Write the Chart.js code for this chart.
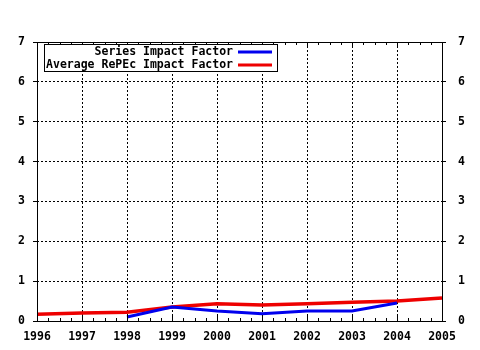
<!DOCTYPE html>
<html>
<head>
<meta charset="utf-8">
<script src="https://cdn.jsdelivr.net/npm/chart.js@4"></script>
<style>
  html, body { margin: 0; padding: 0; background: #fff; }
  #wrap { width: 480px; height: 350px; }
</style>
</head>
<body>
<div id="wrap"><canvas id="impactChart" width="480" height="350"></canvas></div>
<script>
// values
const years = [1996, 1997, 1998, 1999, 2000, 2001, 2002, 2003, 2004, 2005];
const seriesImpact = [null, null, 0.10, 0.35, 0.25, 0.18, 0.25, 0.25, 0.45, null];
const averageImpact = [0.17, 0.20, 0.22, 0.35, 0.43, 0.40, 0.43, 0.47, 0.50, 0.58];
const yTicks = [0, 1, 2, 3, 4, 5, 6, 7];
const legendLabels = ['Series Impact Factor', 'Average RePEc Impact Factor'];

const FONT = 'bold 11.5px "DejaVu Sans Mono", "Liberation Mono", monospace';
const tickFont = { family: '"DejaVu Sans Mono", monospace', size: 11.5, weight: 'bold' };
const BLUE = '#0000ee';
const RED = '#ee0000';

function toPoints(vals) {
    return years.map((y, i) => ({ x: y, y: vals[i] }));
}

// border, minor ticks and the boxed legend, drawn old-gnuplot style
const framePlugin = {
    id: 'frame',
    afterDatasetsDraw(chart) {
        const c = chart.ctx;
        const a = chart.chartArea;
        const xs = chart.scales.x;
        c.save();
        c.strokeStyle = '#000';
        c.lineWidth = 1;
        c.setLineDash([]);
        c.strokeRect(Math.round(a.left) + 0.5, Math.round(a.top) + 0.5,
            Math.round(a.right - a.left), Math.round(a.bottom - a.top));
        c.beginPath();
        for (let i = 0; i < years.length - 1; i++) {
            for (let k = 1; k < 4; k++) {
                const px = Math.round(xs.getPixelForValue(years[i] + k / 4)) + 0.5;
                c.moveTo(px, a.bottom); c.lineTo(px, a.bottom - 3);
                c.moveTo(px, a.top); c.lineTo(px, a.top + 3);
            }
        }
        years.forEach(y => {
            const px = Math.round(xs.getPixelForValue(y)) + 0.5;
            c.moveTo(px, a.bottom); c.lineTo(px, a.bottom - 6);
            c.moveTo(px, a.top); c.lineTo(px, a.top + 6);
        });
        c.stroke();

        // legend box
        const bx = a.left + 7, by = a.top + 2, bw = 233, bh = 27;
        c.fillStyle = '#fff';
        c.fillRect(bx, by, bw, bh);
        c.strokeRect(bx + 0.5, by + 0.5, bw, bh);
        c.font = FONT;
        c.textAlign = 'right';
        c.textBaseline = 'middle';
        const colors = [BLUE, RED];
        legendLabels.forEach((t, i) => {
            const ty = by + 8 + i * 13;
            c.fillStyle = '#000';
            c.fillText(t, bx + 189, ty);
            c.strokeStyle = colors[i];
            c.lineWidth = 3;
            c.beginPath();
            c.moveTo(bx + 194, ty);
            c.lineTo(bx + 228, ty);
            c.stroke();
        });
        c.restore();
    }
};

new Chart(document.getElementById('impactChart').getContext('2d'), {
    type: 'line',
    data: {
        datasets: [
            {
                label: legendLabels[0],
                data: toPoints(seriesImpact),
                borderColor: BLUE,
                borderWidth: 3,
                pointRadius: 0,
                tension: 0,
                spanGaps: false
            },
            {
                label: legendLabels[1],
                data: toPoints(averageImpact),
                borderColor: RED,
                borderWidth: 3.5,
                pointRadius: 0,
                tension: 0
            }
        ]
    },
    options: {
        responsive: false,
        animation: false,
        layout: { padding: { top: 42, right: 0, left: 0, bottom: 0 } },
        plugins: { legend: { display: false }, tooltip: { enabled: false } },
        scales: {
            x: {
                type: 'linear',
                min: years[0],
                max: years[years.length - 1],
                afterBuildTicks: s => { s.ticks = years.map(v => ({ value: v })); },
                afterFit: s => { s.height = 29; },
                grid: { color: '#000', drawTicks: false },
                border: { display: false, dash: [2, 2] },
                ticks: {
                    color: '#000',
                    padding: 9,
                    maxRotation: 0,
                    autoSkip: false,
                    font: tickFont,
                    callback: v => String(v)
                }
            },
            y: {
                position: 'left',
                min: 0,
                max: 7,
                afterBuildTicks: s => { s.ticks = yTicks.map(v => ({ value: v })); },
                afterFit: s => { s.width = 37; },
                grid: { color: '#000', tickLength: 4, tickBorderDash: [] },
                border: { display: false, dash: [2, 2] },
                ticks: { color: '#000', padding: 8, font: tickFont }
            },
            y2: {
                position: 'right',
                min: 0,
                max: 7,
                afterBuildTicks: s => { s.ticks = yTicks.map(v => ({ value: v })); },
                afterFit: s => { s.width = 38; },
                grid: { drawOnChartArea: false, color: '#000', tickLength: 4 },
                border: { display: false },
                ticks: { color: '#000', padding: 12, font: tickFont }
            }
        }
    },
    plugins: [framePlugin]
});
</script>
</body>
</html>
